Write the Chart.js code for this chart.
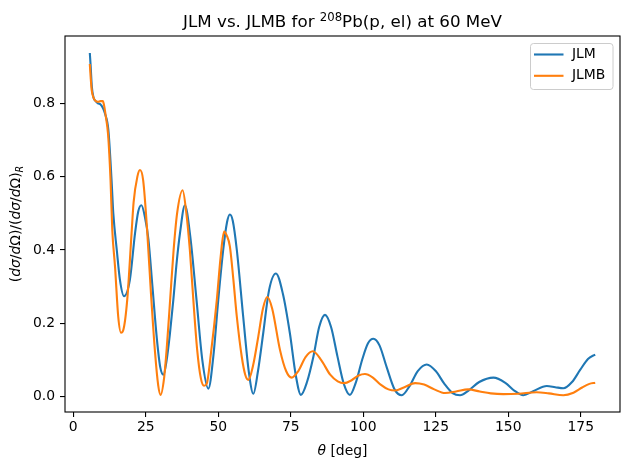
<!DOCTYPE html>
<html><head><meta charset="utf-8">
<script src="https://cdn.jsdelivr.net/npm/chart.js@4/dist/chart.umd.min.js"></script>
<style>html,body{margin:0;padding:0;background:#fff}#wrap{width:630px;height:470px}</style>
</head><body><div id="wrap"><canvas id="c" width="630" height="470"></canvas></div>
<script>
// ---- data ----
const seriesNames = ['JLM', 'JLMB'];
const jlmTheta = [5.7,6.0,6.4,7.0,7.7,8.5,9.4,10.3,10.9,12.1,13.2,13.8,15.0,16.1,17.5,19.5,21.3,22.4,23.5,24.7,25.9,27.3,28.8,30.0,31.1,32.2,33.3,34.5,35.7,36.8,38.5,40.3,42.5,44.5,46.6,48.3,50.0,51.7,53.0,54.0,55.0,56.4,58.6,60.5,62.1,63.7,65.5,67.5,69.9,72.3,74.7,76.7,78.5,80.6,82.8,84.8,86.8,88.9,91.1,93.3,95.4,97.5,99.6,101.6,103.5,105.6,108.1,110.8,113.3,115.9,118.8,121.9,125.0,128.0,130.8,133.4,136.2,140.0,144.9,149.0,152.2,155.2,158.6,163.3,166.2,169.0,172.0,174.8,177.5,180.0];
const jlmRatio = [0.937,0.90,0.845,0.815,0.806,0.800,0.797,0.786,0.773,0.727,0.59,0.50,0.40,0.318,0.274,0.318,0.446,0.505,0.522,0.49,0.43,0.30,0.16,0.08,0.06,0.10,0.17,0.264,0.37,0.446,0.522,0.44,0.264,0.10,0.022,0.11,0.264,0.40,0.475,0.497,0.48,0.40,0.218,0.07,0.008,0.07,0.173,0.29,0.336,0.28,0.173,0.06,0.005,0.04,0.109,0.19,0.223,0.19,0.11,0.035,0.005,0.04,0.10,0.145,0.158,0.14,0.08,0.02,0.004,0.028,0.07,0.088,0.07,0.035,0.01,0.004,0.016,0.04,0.052,0.038,0.016,0.004,0.015,0.029,0.026,0.023,0.04,0.073,0.103,0.115];
const jlmbTheta = [5.7,6.0,6.35,7.0,7.7,8.5,9.4,10.2,10.6,11.2,12.0,12.85,13.45,14.4,15.5,16.45,17.25,18.6,20.1,20.8,22.1,23.0,24.1,25.5,26.8,28.2,29.3,30.1,31.3,32.3,33.4,34.6,35.8,37.7,39.0,40.2,41.4,42.7,44.0,45.1,46.0,47.5,49.5,50.8,52.0,52.9,54.0,55.2,56.4,58.1,59.3,60.4,62.0,63.8,65.4,66.9,68.6,71.3,73.4,75.3,77.6,80.1,82.6,85.5,88.6,91.2,93.4,96.0,98.4,100.6,103.2,106.0,108.7,111.0,114.2,117.9,121.0,124.5,128.2,132.0,136.2,140.2,144.0,148.3,153.5,159.8,164.0,169.0,172.5,175.5,178.0,180.0];
const jlmbRatio = [0.907,0.87,0.836,0.815,0.806,0.804,0.806,0.806,0.795,0.765,0.715,0.59,0.454,0.354,0.218,0.1745,0.182,0.264,0.446,0.53,0.60,0.618,0.59,0.45,0.28,0.12,0.03,0.005,0.05,0.14,0.264,0.40,0.50,0.563,0.50,0.40,0.264,0.13,0.05,0.03,0.035,0.12,0.264,0.38,0.45,0.44,0.41,0.32,0.218,0.109,0.06,0.046,0.085,0.164,0.24,0.272,0.24,0.127,0.07,0.052,0.07,0.108,0.124,0.10,0.06,0.042,0.037,0.045,0.058,0.062,0.053,0.033,0.02,0.017,0.026,0.037,0.033,0.02,0.01,0.014,0.02,0.014,0.009,0.007,0.008,0.012,0.009,0.004,0.011,0.025,0.035,0.038];
const xTickValues = [0,25,50,75,100,125,150,175];
const yTickValues = [0.0,0.2,0.4,0.6,0.8];

const FONT = 'DejaVu Sans';
const C_BLUE = '#1f77b4', C_ORANGE = '#ff7f0e';

function toPts(xs, ys){ return xs.map((x,i)=>({x:x, y:ys[i]})); }

function richWidth(ctx, segs){
  let w = 0;
  for (const s of segs){ ctx.font = s.f; w += ctx.measureText(s.t).width; }
  return w;
}
function drawRich(ctx, segs, cx, cy){
  const w = richWidth(ctx, segs);
  let x = cx - w/2;
  ctx.textBaseline = 'alphabetic';
  ctx.textAlign = 'left';
  for (const s of segs){
    ctx.font = s.f;
    ctx.fillText(s.t, x, cy + (s.dy||0));
    x += ctx.measureText(s.t).width;
  }
}

const decor = {
  id: 'decor',
  afterDraw(chart){
    const ctx = chart.ctx, a = chart.chartArea;
    ctx.save();
    // frame
    ctx.strokeStyle = '#000'; ctx.lineWidth = 1.1;
    ctx.strokeRect(a.left, a.top, a.right - a.left, a.bottom - a.top);
    ctx.fillStyle = '#000';
    const cx = (a.left + a.right)/2;
    // title
    const tf = '16.7px "' + FONT + '"', sf = '11.7px "' + FONT + '"';
    drawRich(ctx, [
      {t:'JLM vs. JLMB for ', f:tf},
      {t:'208', f:sf, dy:-6},
      {t:'Pb(p, el) at 60 MeV', f:tf}
    ], cx, 27);
    // x label
    const nf = '13.9px "' + FONT + '"', itf = 'italic 13.9px "' + FONT + '"';
    drawRich(ctx, [{t:'\u03b8', f:itf}, {t:' [deg]', f:nf}], cx, 455);
    // y label (rotated)
    ctx.save();
    ctx.translate(20, (a.top + a.bottom)/2);
    ctx.rotate(-Math.PI/2);
    const subf = 'italic 9.7px "' + FONT + '"';
    drawRich(ctx, [
      {t:'(', f:nf},{t:'d\u03c3', f:itf},{t:'/', f:nf},{t:'d', f:itf},{t:'\u03a9)/(', f:nf},
      {t:'d\u03c3', f:itf},{t:'/', f:nf},{t:'d', f:itf},{t:'\u03a9)', f:nf},{t:'R', f:subf, dy:3}
    ], 0, 0);
    ctx.restore();
    // legend
    const lx = 530.5, ly = 43.5, lw = 82.5, lh = 46, r = 3;
    ctx.beginPath();
    ctx.moveTo(lx + r, ly);
    ctx.arcTo(lx + lw, ly, lx + lw, ly + lh, r);
    ctx.arcTo(lx + lw, ly + lh, lx, ly + lh, r);
    ctx.arcTo(lx, ly + lh, lx, ly, r);
    ctx.arcTo(lx, ly, lx + lw, ly, r);
    ctx.closePath();
    ctx.fillStyle = 'rgba(255,255,255,0.8)'; ctx.fill();
    ctx.strokeStyle = '#cccccc'; ctx.lineWidth = 1; ctx.stroke();
    const cols = [C_BLUE, C_ORANGE];
    seriesNames.forEach((name, i) => {
      const yy = 54.5 + i*21.3;
      ctx.strokeStyle = cols[i]; ctx.lineWidth = 2.1;
      ctx.beginPath(); ctx.moveTo(534, yy); ctx.lineTo(563.5, yy); ctx.stroke();
      ctx.fillStyle = '#000'; ctx.font = nf; ctx.textBaseline = 'middle'; ctx.textAlign = 'left';
      ctx.fillText(name, 572, yy);
    });
    ctx.restore();
  }
};

new Chart(document.getElementById('c'), {
  type: 'line',
  data: {
    datasets: [
      {label: seriesNames[0], data: toPts(jlmTheta, jlmRatio), borderColor: C_BLUE, borderWidth: 2.1,
       pointRadius: 0, cubicInterpolationMode: 'monotone', fill: false, order: 1},
      {label: seriesNames[1], data: toPts(jlmbTheta, jlmbRatio), borderColor: C_ORANGE, borderWidth: 2.1,
       pointRadius: 0, cubicInterpolationMode: 'monotone', fill: false, order: 0}
    ]
  },
  options: {
    responsive: false, animation: false, devicePixelRatio: 1, events: [],
    layout: {padding: {left: 0, right: 10, top: 36, bottom: 0}},
    plugins: {legend: {display: false}, title: {display: false}, tooltip: {enabled: false}},
    scales: {
      x: {
        type: 'linear', min: -2.86, max: 188.55,
        afterBuildTicks: s => { s.ticks = xTickValues.map(v => ({value: v})); },
        afterFit: s => { s.height = 58; },
        border: {display: false},
        grid: {drawOnChartArea: false, drawTicks: true, tickLength: 5, color: '#000', tickColor: '#000', lineWidth: 1.1},
        ticks: {color: '#000', font: {family: FONT, size: 13.9}, padding: 2, maxRotation: 0,
                callback: v => String(v)}
      },
      y: {
        type: 'linear', min: -0.0417, max: 0.9835,
        afterBuildTicks: s => { s.ticks = yTickValues.map(v => ({value: v})); },
        afterFit: s => { s.width = 65; },
        border: {display: false},
        grid: {drawOnChartArea: false, drawTicks: true, tickLength: 5, color: '#000', tickColor: '#000', lineWidth: 1.1},
        ticks: {color: '#000', font: {family: FONT, size: 13.9}, padding: 5,
                callback: v => Number(v).toFixed(1)}
      }
    }
  },
  plugins: [decor]
});
</script>
</body></html>
